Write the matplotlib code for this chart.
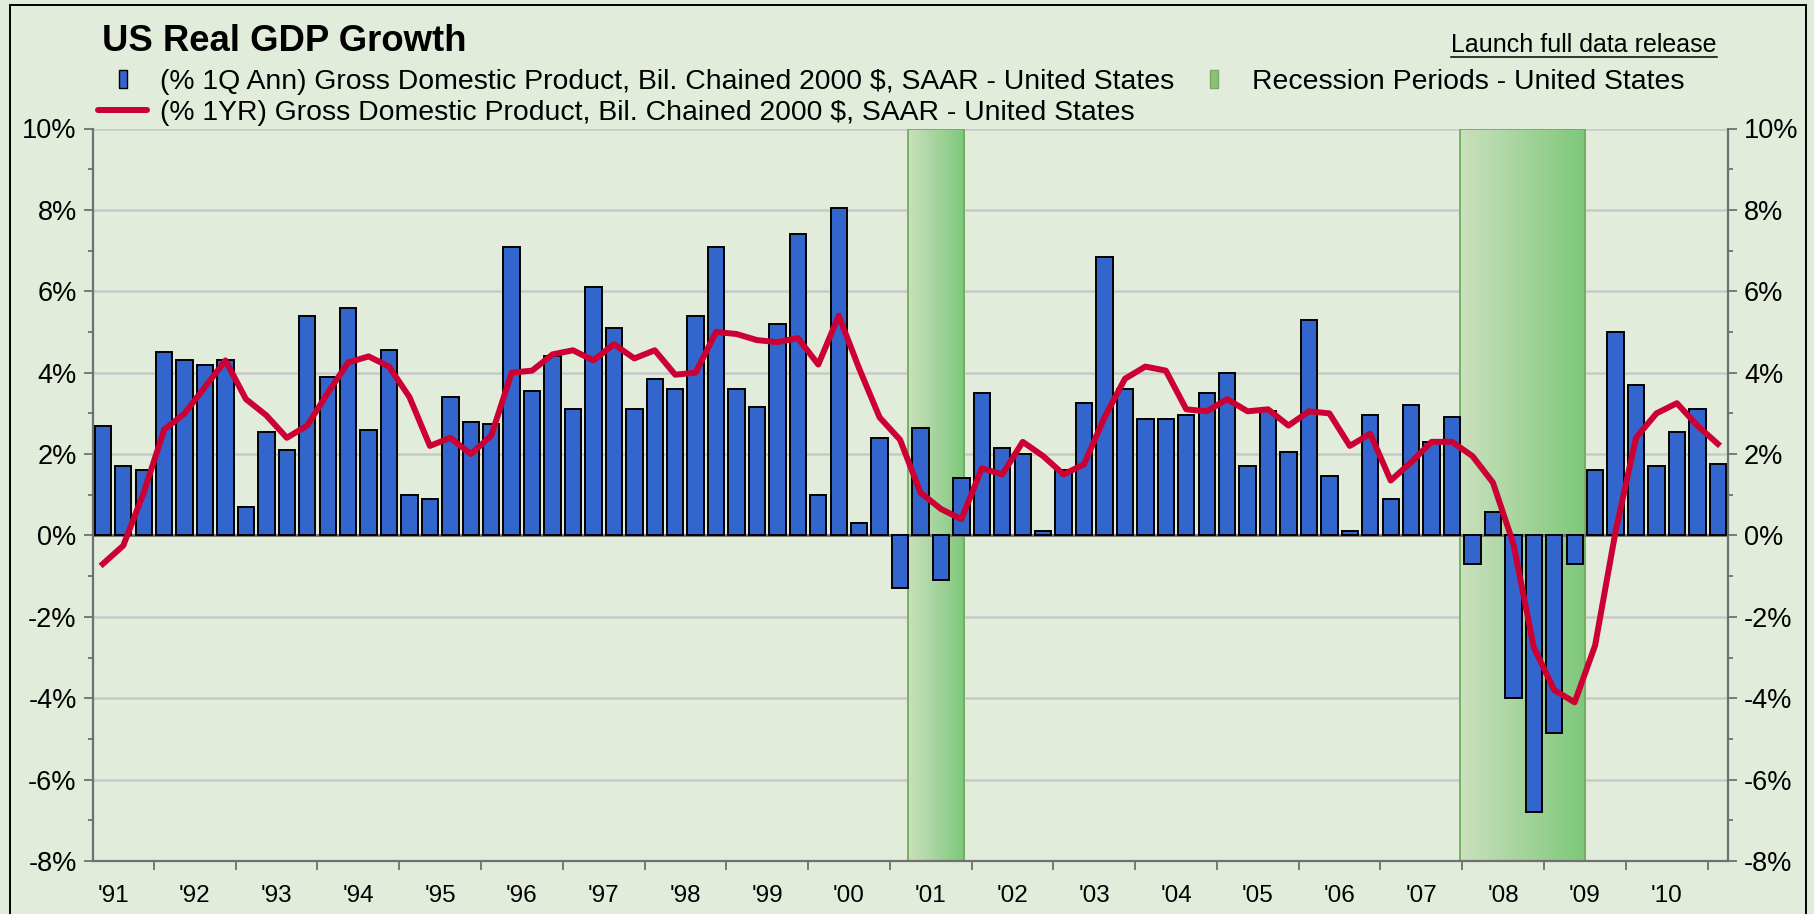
import numpy as np
import pandas as pd
import matplotlib
matplotlib.use("Agg")
import matplotlib.pyplot as plt
from matplotlib.patches import Rectangle
from matplotlib.lines import Line2D
from matplotlib.colors import LinearSegmentedColormap
from matplotlib.ticker import FixedLocator, MultipleLocator, FuncFormatter

plt.rcParams['font.family'] = ['Liberation Sans', 'DejaVu Sans']

# quarterly data, 1991Q2 .. 2011Q1
quarters = pd.period_range("1991Q2", "2011Q1", freq="Q")

# (% 1Q Ann) real GDP growth
gdp_q = [2.7, 1.7, 1.6, 4.5, 4.3, 4.2, 4.3, 0.7, 2.55, 2.1,
         5.4, 3.9, 5.6, 2.6, 4.55, 1.0, 0.9, 3.4, 2.8, 2.75,
         7.1, 3.55, 4.4, 3.1, 6.1, 5.1, 3.1, 3.85, 3.6, 5.4,
         7.1, 3.6, 3.15, 5.2, 7.4, 1.0, 8.05, 0.3, 2.4, -1.3,
         2.65, -1.1, 1.4, 3.5, 2.15, 2.0, 0.1, 1.6, 3.25, 6.85,
         3.6, 2.85, 2.85, 2.95, 3.5, 4.0, 1.7, 3.05, 2.05, 5.3,
         1.45, 0.1, 2.95, 0.9, 3.2, 2.3, 2.9, -0.7, 0.57, -4.0,
         -6.8, -4.85, -0.7, 1.6, 5.0, 3.7, 1.7, 2.55, 3.1, 1.75]

# (% 1YR) real GDP growth
gdp_yoy = [-0.7, -0.25, 1.05, 2.6, 3.0, 3.65, 4.3, 3.35, 2.95, 2.4,
           2.7, 3.5, 4.25, 4.4, 4.15, 3.4, 2.2, 2.4, 2.0, 2.45,
           4.0, 4.05, 4.45, 4.55, 4.3, 4.7, 4.35, 4.55, 3.95, 4.0,
           5.0, 4.95, 4.8, 4.75, 4.85, 4.2, 5.4, 4.1, 2.9, 2.35,
           1.05, 0.65, 0.4, 1.65, 1.5, 2.3, 1.95, 1.5, 1.75, 2.9,
           3.85, 4.15, 4.05, 3.1, 3.05, 3.35, 3.05, 3.1, 2.7, 3.05,
           3.0, 2.2, 2.5, 1.35, 1.8, 2.3, 2.3, 1.95, 1.3, -0.2,
           -2.75, -3.8, -4.1, -2.7, 0.1, 2.4, 3.0, 3.25, 2.7, 2.25]

# recession periods (decimal years)
rec_start = [2001.22, 2007.97]
rec_end = [2001.91, 2009.5]

years = list(range(1991, 2011))

x = quarters.year + (quarters.quarter - 1) / 4 + 0.125

W, H = 1815, 914
bg = '#E1ECDA'
fig = plt.figure(figsize=(W / 100, H / 100), dpi=100)
fig.patch.set_facecolor(bg)
ax = fig.add_axes([92.6 / W, 1 - 861 / H, (1728 - 92.6) / W, (861 - 128.5) / H])
ax.set_facecolor(bg)

# recession shading with left-to-right gradient
cmap = LinearSegmentedColormap.from_list('rec', ['#CBE0BE', '#7DC87A'])
grad = np.linspace(0, 1, 256).reshape(1, -1)
for s, e in zip(rec_start, rec_end):
    ax.imshow(grad, extent=[s, e, -8, 10], aspect='auto', cmap=cmap, zorder=1.5)
    ax.add_patch(Rectangle((s, -8), e - s, 18, fill=False, edgecolor='#72AD5E', lw=1.3, zorder=1.6))

ax.bar(x, gdp_q, width=0.2, color='#3366CC', edgecolor='black', linewidth=1.4, zorder=3)
ax.plot(x, gdp_yoy, color='#CC0033', lw=4.3, solid_joinstyle='round', zorder=4)
ax.axhline(0, color='#707070', lw=2, zorder=2.5)

ax.set_xlim(1991.25, 2011.25)
ax.set_ylim(-8, 10)

# grid
ax.set_axisbelow(True)
ax.yaxis.grid(True, color='#C9C9C9', lw=1.8)
ax.xaxis.grid(False)

for side in ['left', 'right', 'bottom']:
    ax.spines[side].set_color('#707070')
    ax.spines[side].set_linewidth(1.6)
ax.spines['top'].set_visible(False)

ax.yaxis.set_major_locator(MultipleLocator(2))
ax.yaxis.set_minor_locator(MultipleLocator(1))
ax.yaxis.set_major_formatter(FuncFormatter(lambda v, p: f"{v:.0f}%"))
ax.tick_params(axis='y', which='both', direction='out', color='#707070', width=1.3,
               left=True, right=True, labelleft=True, labelright=True)
ax.tick_params(axis='y', which='major', length=6.5, labelsize=19.5, pad=5)
ax.tick_params(axis='y', which='minor', length=3.6)

ax.xaxis.set_major_locator(FixedLocator([y + 1 for y in years]))
ax.xaxis.set_minor_locator(FixedLocator([y + 0.5 for y in years]))
ax.xaxis.set_major_formatter(FuncFormatter(lambda v, p: ""))
ax.xaxis.set_minor_formatter(FuncFormatter(lambda v, p: "'" + str(int(v))[2:]))
ax.tick_params(axis='x', which='major', direction='out', length=6.5, width=1.3, color='#707070')
ax.tick_params(axis='x', which='minor', length=0, labelsize=17.5, pad=17)

# legend
rect = [(-4, -9), (4, -9), (4, 9), (-4, 9), (-4, -9)]
h_bar = Line2D([], [], linestyle='none', marker=rect, markersize=13,
               markerfacecolor='#3366CC', markeredgecolor='black', markeredgewidth=1)
h_line = Line2D([], [], color='#CC0033', lw=4.3, solid_capstyle='round')
h_rec = Line2D([], [], linestyle='none', marker=rect, markersize=13,
               markerfacecolor='#8FC07B', markeredgecolor='#76AB62', markeredgewidth=1)
labels = ["(% 1Q Ann) Gross Domestic Product, Bil. Chained 2000 $, SAAR - United States",
          "(% 1YR) Gross Domestic Product, Bil. Chained 2000 $, SAAR - United States",
          "Recession Periods - United States"]
fig.legend([h_bar, h_line, h_rec], labels, ncol=2, loc='upper left',
           bbox_to_anchor=(98 / W, 1 - 69 / H), frameon=False, fontsize=20.4,
           handlelength=1.73, handletextpad=0.46, columnspacing=0.55,
           labelspacing=0.18, borderpad=0, borderaxespad=0, numpoints=1)

fig.text(102 / W, 1 - 51 / H, 'US Real GDP Growth', fontsize=26.3, fontweight='bold',
         va='baseline', ha='left')
t = fig.text(1717 / W, 1 - 45 / H, 'Launch full data release', fontsize=18, ha='right', va='center')

# frame around the chart
fig.add_artist(Rectangle((10 / W, -0.01), (1806 - 10) / W, 1.01 - 5 / H, fill=False,
                         edgecolor='black', lw=1.4, transform=fig.transFigure, clip_on=False))

fig.canvas.draw()
bb = t.get_window_extent()
uy = 1 - 57 / H
fig.add_artist(Line2D([bb.x0 / W, bb.x1 / W], [uy, uy], color='black', lw=1.1,
                      transform=fig.transFigure))

fig.savefig('out.png', dpi=100, facecolor=bg)
